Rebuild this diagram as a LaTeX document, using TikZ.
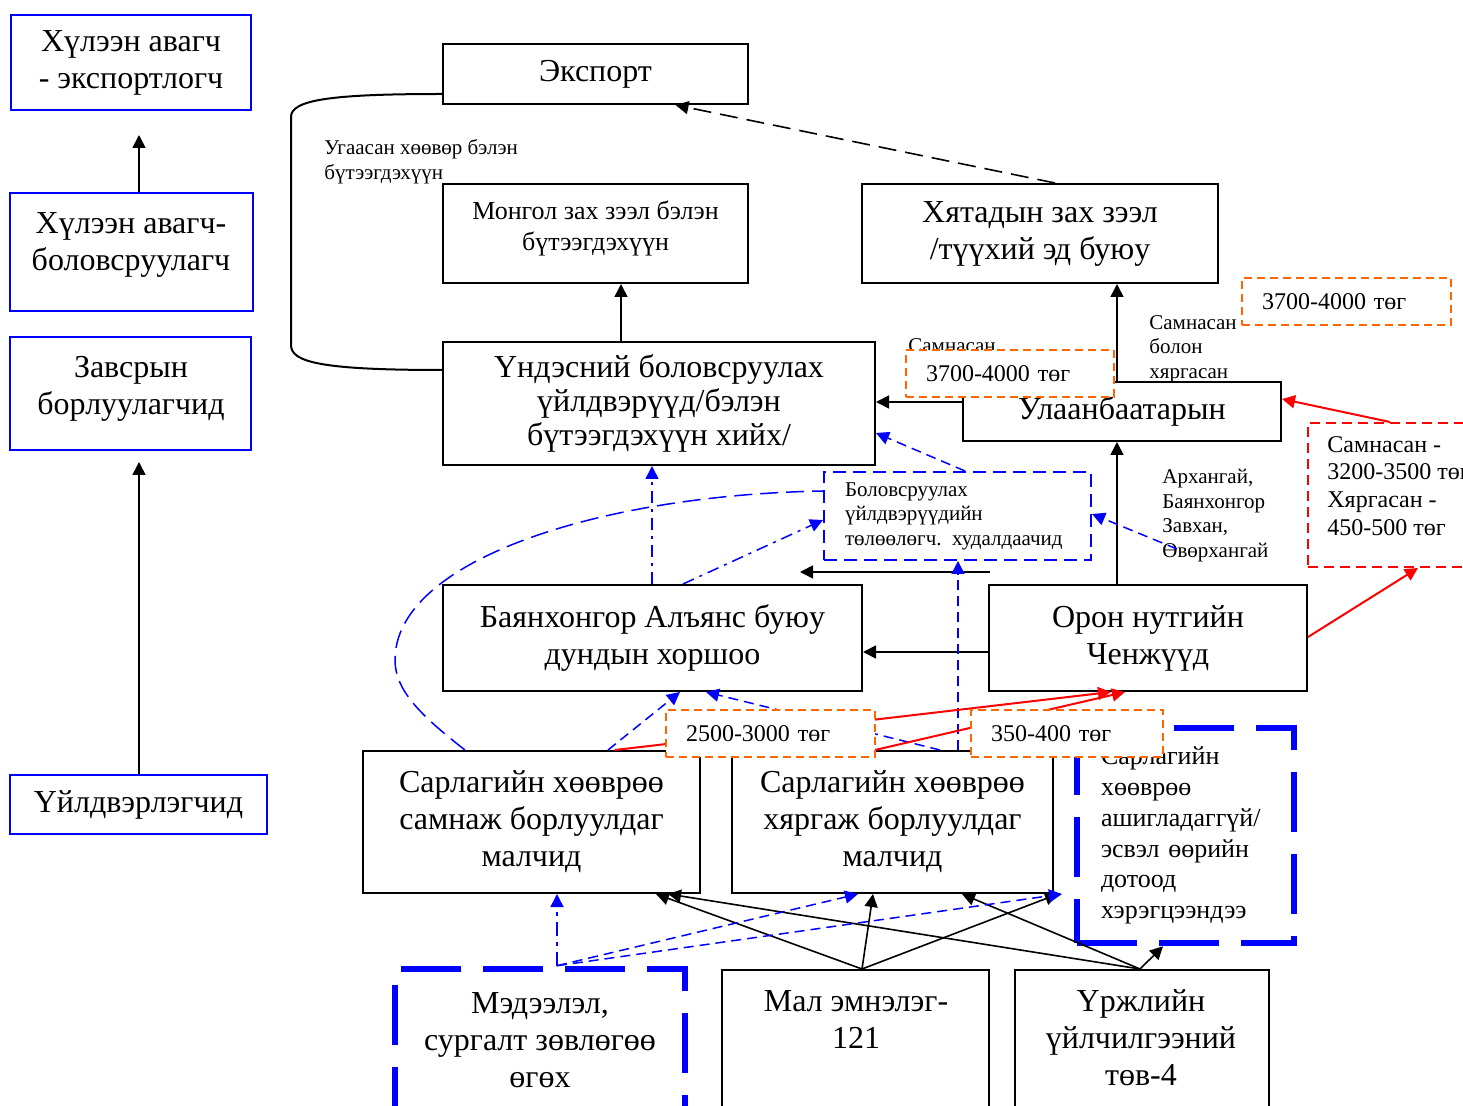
\documentclass[tikz,border=0pt]{standalone}
\usepackage{fontspec}
\setmainfont{Liberation Serif}
\usetikzlibrary{arrows.meta,calc}
\definecolor{chainBlue}{RGB}{0,0,255}
\definecolor{priceOrange}{RGB}{255,102,0}
\definecolor{chainRed}{RGB}{255,0,0}
\newcommand{\bigTxt}{\fontsize{16}{18.5}\selectfont}
\newcommand{\natTxt}{\fontsize{16}{17}\selectfont}
\newcommand{\midTxt}{\fontsize{13}{15.5}\selectfont}
\newcommand{\ownTxt}{\fontsize{13}{15.4}\selectfont}
\newcommand{\noteTxt}{\fontsize{10.5}{12.3}\selectfont}
\newcommand{\priceTxt}{\fontsize{12}{14}\selectfont}
\newcommand{\redTxt}{\fontsize{12}{13.8}\selectfont}

\begin{document}
\begin{tikzpicture}[x=0.5pt, y=-0.5pt,
    box/.style={draw, line width=1pt, align=center, font=\bigTxt, inner sep=0pt},
    sidebox/.style={box, draw=chainBlue},
    thickbox/.style={box, draw=chainBlue, line width=3.3pt, dash pattern=on 30pt off 11pt},
    price/.style={draw=priceOrange, line width=1pt, dash pattern=on 4pt off 2.5pt, fill=white,
      font=\priceTxt, align=left, inner xsep=10pt, inner ysep=0pt, minimum height=23.5pt},
    note/.style={font=\noteTxt, align=left, inner sep=0pt},
    arr/.style={-{Triangle[length=6.5pt,width=6.5pt]}, line width=0.8pt},
    bluearr/.style={arr, draw=chainBlue, line width=0.75pt, dash pattern=on 5pt off 3pt},
    bluedot/.style={arr, draw=chainBlue, line width=0.75pt, dash pattern=on 6pt off 3pt on 1.5pt off 3pt},
    redarr/.style={arr, draw=chainRed, line width=1pt}]
  \useasboundingbox (0,0) rectangle (1463,1106);
  \clip (0,0) rectangle (1463,1106);

  % left column
  \node[sidebox, minimum width=120pt, minimum height=47.5pt] (hexp) at (131,62.5) {Хүлээн авагч\\- экспортлогч};
  \node[sidebox, minimum width=121.5pt, minimum height=59pt] (hproc) at (131.5,252) {};
  \node[font=\bigTxt, align=center] (hprocT) at (131,245) {Хүлээн авагч-\\боловсруулагч};
  \node[sidebox, minimum width=120.5pt, minimum height=56.5pt] (inter) at (130.5,393.5) {};
  \node[font=\bigTxt, align=center] (interT) at (131,388.5) {Завсрын\\борлуулагчид};
  \node[sidebox, minimum width=128.5pt, minimum height=29.5pt] (prod) at (138.5,804.5) {Үйлдвэрлэгчид};
  \coordinate (colx) at (139,0);
  \draw[arr, shorten >=12pt] (hproc.north -| colx) -- (hexp.south -| colx);
  \draw[arr, shorten >=5.5pt] (prod.north -| colx) -- (inter.south -| colx);

  % chain boxes
  \node[box, minimum width=152.5pt, minimum height=30pt] (export) at (595.5,74) {Экспорт};
  \node[box, minimum width=152.5pt, minimum height=49.5pt] (mnmkt) at (595.5,233.5) {};
  \node[font=\midTxt, align=center] (mnmktT) at (595.5,228.5) {Монгол зах зээл бэлэн\\бүтээгдэхүүн};
  \node[box, minimum width=178pt, minimum height=49.5pt] (cnmkt) at (1040,233.5) {Хятадын зах зээл\\/түүхий эд буюу};
  \node[box, font=\natTxt, minimum width=216pt, minimum height=61.5pt] (natproc) at (659,403.5) {Үндэсний боловсруулах\\үйлдвэрүүд/бэлэн\\бүтээгдэхүүн хийх/};
  \node[box, minimum width=159pt, minimum height=29.5pt] (ubtr) at (1122,411.5) {Улаанбаатарын};
  \node[draw=chainBlue, line width=1pt, dash pattern=on 6.5pt off 3.5pt, minimum width=133.5pt, minimum height=44pt,
        text width=112.5pt, inner xsep=10.5pt, inner ysep=0pt, align=left, font=\noteTxt] (agents) at (957.5,516)
        {Боловсруулах\\үйлдвэрүүдийн\\төлөөлөгч. худалдаачид};
  \node[draw=chainRed, line width=1pt, dash pattern=on 5pt off 3pt, anchor=north west, minimum width=95pt,
        minimum height=72pt] (rprice) at (1307,422) {};
  \node[font=\redTxt, align=left, inner sep=0pt, anchor=north west] (rpriceT) at (1327,436)
        {Самнасан -\\3200-3500 төг\\Хяргасан -\\450-500 төг};
  \node[box, minimum width=209.5pt, minimum height=53pt] (alliance) at (652.5,638) {Баянхонгор Алъянс буюу\\дундын хоршоо};
  \node[box, minimum width=159pt, minimum height=53pt] (local) at (1148,638) {Орон нутгийн\\Ченжүүд};
  \node[box, minimum width=168.5pt, minimum height=71pt] (combh) at (531.5,822) {Сарлагийн хөөврөө\\самнаж борлуулдаг\\малчид};
  \node[box, minimum width=160.5pt, minimum height=71pt] (shearh) at (892.5,822) {Сарлагийн хөөврөө\\хяргаж борлуулдаг\\малчид};
  \node[thickbox, minimum width=108.5pt, minimum height=107.5pt, text width=84.5pt, inner xsep=12pt,
        align=left, font=\ownTxt] (ownuse) at (1185.5,835.5)
        {Сарлагийн\\хөөврөө\\ашигладаггүй/\\эсвэл өөрийн\\дотоод\\хэрэгцээндээ};
  \node[thickbox, minimum width=145pt, minimum height=71pt] (info) at (540,1040) {Мэдээлэл,\\сургалт зөвлөгөө\\өгөх};
  \node[box, minimum width=133.5pt, minimum height=90pt, anchor=north] (vet) at (855.5,969) {};
  \node[font=\bigTxt, align=center] (vetT) at (856,1020) {Мал эмнэлэг-\\121};
  \node[box, minimum width=127pt, minimum height=90pt, anchor=north] (breed) at (1142,969) {};
  \node[font=\bigTxt, align=center] (breedT) at (1141,1038) {Үржлийн\\үйлчилгээний\\төв-4};

  % side notes
  \node[note, anchor=west] (washed) at (324,161.5) {Угаасан хөөвөр бэлэн\\бүтээгдэхүүн};
  \node[note, anchor=base west] (combUB) at (908,353) {Самнасан};
  \node[note, anchor=west] (bothUB) at (1149,349) {Самнасан\\болон\\хяргасан};
  \node[note, anchor=west] (aimags) at (1162,515.5) {Архангай,\\Баянхонгор\\Завхан,\\Өвөрхангай};

  % connectors
  \draw[line width=1pt] (natproc.west |- 0,370) .. controls (320,370) and (291,362) .. (291,345)
    -- (291,117) .. controls (291,100) and (330,94) .. (export.west |- 0,94);
  \draw[arr, dash pattern=on 9pt off 4.5pt] ([xshift=7.5pt]cnmkt.north) -- ([xshift=40pt]export.south);
  \draw[arr] (natproc.north -| 621,0) -- (mnmkt.south -| 621,0);
  \draw[arr] (ubtr.north -| 1117,0) -- (cnmkt.south -| 1117,0);
  \draw[arr] (ubtr.west |- 0,402) -- (natproc.east |- 0,402);
  \draw[arr] (local.north -| 1117,0) -- (ubtr.south -| 1117,0);
  \draw[arr] (local.west |- 0,652) -- (alliance.east |- 0,652);
  \coordinate (chg) at (990,572);
  \coordinate (chgEnd) at (800,572);
  \draw[arr] (chg) -- (chgEnd);
  \draw[redarr] (local.east |- 0,637) -- (rprice.south -| 1418,0);
  \draw[redarr] (rprice.north -| 1390,0) -- (ubtr.east |- 0,399);
  \coordinate (akh) at (1177,549);
  \draw[bluearr] (akh) -- (agents.east |- 0,514);
  \draw[bluearr] (agents.north -| 965,0) -- (natproc.east |- 0,433);
  \draw[bluedot] (alliance.north -| 652,0) -- (natproc.south -| 652,0);
  \draw[bluedot] (alliance.north -| 683,0) -- (agents.west |- 0,520);
  \draw[chainBlue, line width=0.75pt, dash pattern=on 9pt off 4pt] (combh.north -| 465,0)
    .. controls (420,715) and (395,690) .. (395,660)
    .. controls (395,560) and (600,495) .. (agents.west |- 0,491);
  \draw[bluearr] (combh.north -| 608,0) -- (alliance.south -| 680,0);
  \draw[bluearr] (shearh.north -| 940,0) -- (alliance.south -| 706,0);
  \draw[bluearr] (shearh.north -| 958,0) -- (agents.south -| 958,0);
  \draw[redarr] (combh.north -| 615,0) -- (local.south -| 1111,0);
  \draw[redarr] (shearh.north -| 875,0) -- (local.south -| 1125,0);

  \coordinate (vetTop) at ([xshift=3.25pt]vet.north);
  \coordinate (breedTop) at ([xshift=-1pt]breed.north);
  \coordinate (infoTop) at ([xshift=8.5pt]info.north);
  \draw[arr] (vetTop) -- (combh.south -| 656,0);
  \draw[arr] (vetTop) -- (shearh.south -| 873,0);
  \draw[arr] (vetTop) -- ([xshift=2pt]shearh.south east);
  \draw[arr] (breedTop) -- (combh.south -| 668,0);
  \draw[arr] (breedTop) -- (shearh.south -| 962,0);
  \draw[arr] (breedTop) -- (ownuse.south -| 1163,0);
  \draw[bluedot, dash pattern=on 7pt off 3pt on 2pt off 3pt] (infoTop) -- (combh.south -| 557,0);
  \draw[bluearr] (infoTop) -- (shearh.south -| 858,0);
  \draw[bluearr] (infoTop) -- ([xshift=4pt]shearh.south east);

  % price tags
  \node[price, text width=84pt] (pUB) at (1010,374) {3700-4000 төг};
  \node[price, text width=84.5pt] (pCN) at (1346.5,302) {3700-4000 төг};
  \node[price, text width=84.5pt] (pComb) at (770.5,733.5) {2500-3000 төг};
  \node[price, text width=76pt] (pShear) at (1067,733.5) {350-400 төг};
\end{tikzpicture}
\end{document}
